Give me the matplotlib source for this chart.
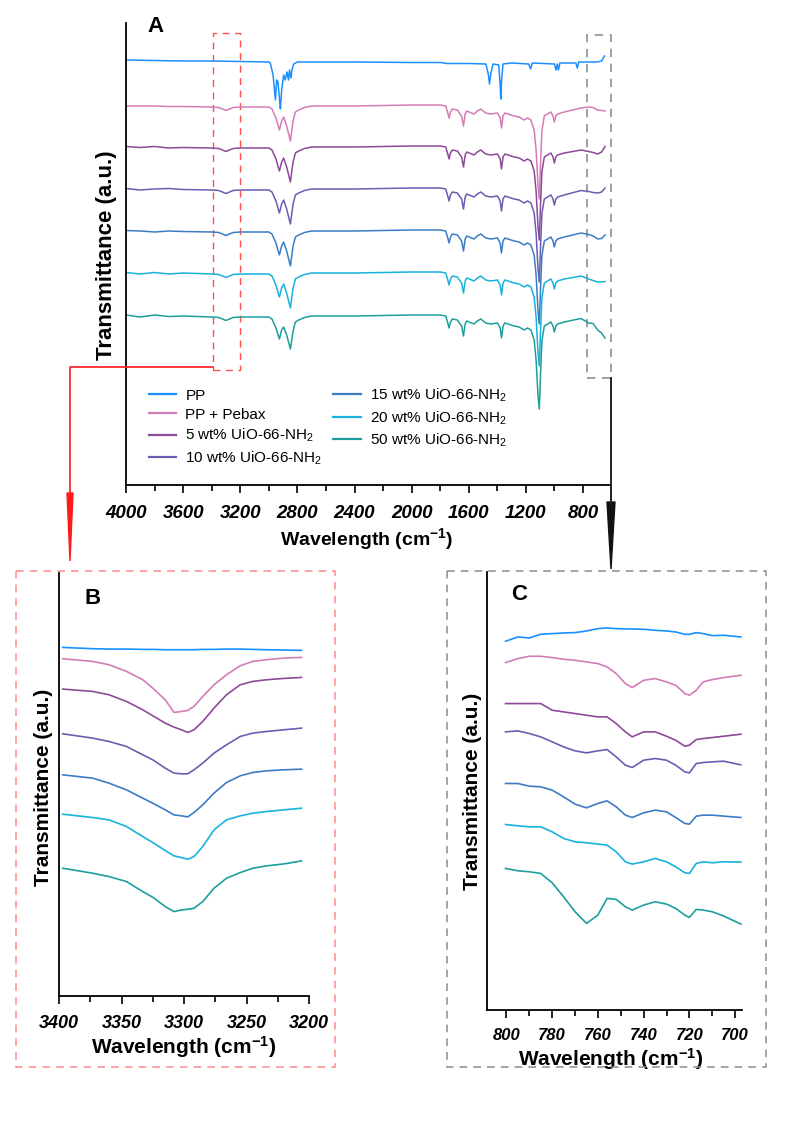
import matplotlib
matplotlib.use('Agg')
import matplotlib.pyplot as plt
from matplotlib.patches import Rectangle, Polygon
from matplotlib.ticker import MultipleLocator

plt.rcParams['font.family'] = ['Liberation Sans', 'DejaVu Sans']
plt.rcParams['mathtext.fontset'] = 'custom'
plt.rcParams['mathtext.rm'] = 'Liberation Sans'
plt.rcParams['mathtext.it'] = 'Liberation Sans:italic'
plt.rcParams['mathtext.bf'] = 'Liberation Sans:bold'

# ---- samples ----
labels = ['PP', 'PP + Pebax', '5 wt% UiO-66-NH$_2$', '10 wt% UiO-66-NH$_2$',
          '15 wt% UiO-66-NH$_2$', '20 wt% UiO-66-NH$_2$', '50 wt% UiO-66-NH$_2$']
colors = ['#1a8fff', '#d37cb6', '#8c4a98', '#6a5db2', '#3b7cc4', '#18b2dc', '#1c9f9c']

# ---- panel A: full spectra (transmittance, a.u., stacked) ----
wn_pp = [4000, 3800, 3600, 3400, 3200, 3000, 2990, 2970, 2954, 2945, 2936, 2925, 2919,
         2910, 2896, 2885, 2873, 2862, 2855, 2845, 2838, 2826, 2800, 2400, 2000, 1800,
         1750, 1600, 1480, 1462, 1455, 1446, 1430, 1390, 1380, 1376, 1370, 1360, 1300,
         1180, 1167, 1155, 1000, 989, 980, 972, 962, 850, 840, 830, 700, 670, 650]
t_pp = [425, 424.5, 424, 424, 423.5, 423, 422, 410, 385, 405, 403, 385, 376,
        395, 410, 405, 413, 405, 415, 407, 415, 421, 423, 423, 422.5, 422.5,
        421.5, 421.5, 421, 410, 401, 411, 421, 420, 400, 386, 405, 421, 422,
        421, 416, 422, 421, 415, 421, 415, 422, 422, 417, 423, 423, 424, 429]

wn_blend = [4000, 3900, 3800, 3700, 3600, 3400, 3350, 3300, 3250, 3200,
            3000, 2978, 2950, 2926, 2910, 2896, 2875, 2849, 2830, 2814,
            2791, 2750, 2700, 2400, 2000, 1800, 1761, 1745, 1738, 1728,
            1715, 1680, 1650, 1637, 1625, 1614, 1563, 1540, 1516, 1481,
            1446, 1399, 1380, 1371, 1360, 1347, 1282, 1247, 1212, 1188,
            1165, 1142, 1128, 1115, 1106, 1098, 1088, 1071, 1025, 1010,
            1001, 990, 978, 931, 814, 760, 730, 697, 670, 646]
t_pebax = [379, 379, 379, 378.5, 378.5, 378, 377.5, 374.5, 377.5, 378,
           378, 376, 367, 355, 364, 368, 359, 344, 364, 373,
           375, 377.5, 379, 379, 380, 380, 379, 371, 367, 373,
           376, 375, 369, 359, 371, 374, 371, 374, 376, 372,
           371, 372, 367, 357, 369, 372, 369, 368, 365, 367,
           365, 355, 334, 299, 286, 319, 354, 369, 373, 369,
           363, 369, 371, 373, 377, 378, 377.5, 375, 374.5, 374]
t_5 = [338.5, 337.5, 338.5, 337, 337.5, 337, 336.5, 333.5, 336.5, 337,
       337, 335, 326, 314, 323, 327, 318, 303, 323, 332,
       334, 336.5, 338, 338, 339, 339, 338, 330, 326, 332,
       335, 334, 328, 318, 330, 333, 330, 333, 335, 331,
       330, 331, 326, 316, 328, 331, 328, 327, 324, 326,
       324, 314, 293, 258, 245, 278, 313, 328, 332, 328,
       322, 328, 330, 332, 335, 333.5, 332.5, 331, 333, 338.5]
t_10 = [296.5, 295, 296, 296.5, 295.5, 295, 294.5, 291.5, 294.5, 295,
        295, 293, 284, 272, 281, 285, 276, 261, 281, 290,
        292, 294.5, 296, 296, 297, 297, 296, 288, 284, 290,
        293, 292, 286, 276, 288, 291, 288, 291, 293, 289,
        288, 289, 284, 274, 286, 289, 286, 285, 282, 284,
        282, 272, 251, 216, 203, 236, 271, 286, 290, 286,
        280, 286, 288, 290, 294.5, 293.5, 292.5, 292, 293, 297]
t_15 = [254.5, 254, 253, 254, 253.5, 253, 252.5, 249.5, 252.5, 253,
        253, 251, 242, 230, 239, 243, 234, 219, 239, 248,
        250, 252.5, 254, 254, 255, 255, 254, 246, 242, 248,
        251, 250, 244, 234, 246, 249, 246, 249, 251, 247,
        246, 247, 242, 232, 244, 247, 244, 243, 240, 242,
        240, 230, 209, 174, 161, 194, 229, 244, 248, 244,
        238, 244, 246, 248, 252, 250.5, 249, 246, 246.5, 250]
t_20 = [212.5, 211, 212.5, 211, 212, 211, 210.5, 207.5, 210.5, 211,
        211, 209, 200, 188, 197, 201, 192, 177, 197, 206,
        208, 210.5, 212, 212, 213, 213, 212, 204, 200, 206,
        209, 208, 202, 192, 204, 207, 204, 207, 209, 205,
        204, 205, 200, 190, 202, 205, 202, 201, 198, 200,
        198, 188, 167, 132, 119, 152, 187, 202, 206, 202,
        196, 202, 204, 206, 209, 206, 204.5, 203, 203, 203.5]
t_50 = [170, 168, 170, 168.5, 169, 168, 167.5, 164.5, 167.5, 168,
        168, 166, 157, 146, 155, 158, 150, 136, 154, 163,
        165, 167.5, 169, 169, 170, 170, 169, 161, 157, 163,
        166, 165, 159, 149, 161, 164, 161, 164, 166, 162,
        161, 162, 157, 147, 159, 162, 159, 158, 155, 157,
        155, 145, 124, 89, 76, 109, 144, 159, 163, 159,
        153, 159, 161, 163, 166.5, 162, 161.5, 155, 152, 147]

# ---- panel B: 3400-3200 cm-1 ----
wn_b = [3397, 3373, 3360, 3346, 3333, 3325, 3315, 3308, 3302, 3297,
        3292, 3285, 3276, 3266, 3255, 3245, 3234, 3220, 3206]
b_pp = [104.5, 104.1, 104.0, 104.0, 103.9, 103.9, 103.8, 103.8, 103.8, 103.8,
        103.8, 103.9, 103.9, 104.0, 104.0, 103.9, 103.8, 103.7, 103.6]
b_pebax = [101.1, 100.3, 99.3, 97.3, 94.8, 92.3, 88.8, 85.0, 85.3, 85.6,
           86.8, 89.8, 93.3, 96.3, 99.0, 100.3, 100.8, 101.3, 101.5]
b_5 = [92.0, 91.3, 90.3, 88.3, 85.8, 84.0, 81.8, 80.6, 79.8, 79.0,
       79.8, 82.3, 86.3, 90.3, 93.3, 94.3, 94.8, 95.2, 95.5]
b_10 = [78.6, 77.3, 76.3, 74.8, 72.3, 70.8, 68.3, 66.8, 66.6, 66.6,
        67.8, 69.8, 72.8, 75.3, 77.8, 78.8, 79.3, 79.8, 80.3]
b_15 = [66.3, 65.3, 63.8, 61.8, 59.3, 57.8, 55.8, 54.3, 54.0, 53.7,
        55.0, 57.3, 60.8, 64.0, 66.0, 67.0, 67.5, 67.8, 68.0]
b_20 = [54.5, 53.5, 52.8, 50.8, 47.8, 46.0, 43.6, 42.0, 41.5, 41.0,
        41.8, 44.8, 49.8, 52.8, 54.0, 54.8, 55.3, 55.8, 56.3]
b_50 = [38.3, 36.8, 35.8, 34.3, 31.3, 29.6, 26.8, 25.3, 25.8, 26.0,
        26.3, 28.3, 32.3, 35.3, 37.0, 38.3, 39.0, 39.6, 40.5]

# ---- panel C: 800-700 cm-1 ----
wn_c = [800.4, 795, 790, 785, 780, 775, 770, 765, 760, 756, 752, 748,
        745, 740, 735, 730, 726, 722, 720, 717, 714, 710, 705, 697.5]
c_pp = [110.7, 112.0, 111.7, 112.8, 113.0, 113.2, 113.3, 113.8, 114.5, 114.7, 114.5, 114.4,
        114.4, 114.3, 114.0, 113.8, 113.5, 112.8, 112.8, 113.3, 113.0, 112.4, 112.5, 112.0]
c_pebax = [104.3, 105.5, 106.2, 106.2, 105.8, 105.3, 105.0, 104.5, 104.0, 103.0, 101.0, 98.0,
           96.8, 99.0, 99.5, 98.5, 97.5, 95.0, 94.5, 96.0, 98.5, 99.2, 99.8, 100.5]
c_5 = [92.0, 92.0, 92.0, 92.0, 90.0, 89.5, 89.0, 88.5, 88.0, 88.0, 86.0, 83.5,
       82.0, 83.5, 83.5, 82.2, 81.0, 79.2, 79.5, 81.2, 81.5, 81.8, 82.2, 82.8]
c_10 = [83.5, 83.8, 83.0, 82.0, 80.5, 79.0, 77.8, 77.2, 77.8, 78.2, 76.0, 73.5,
        72.8, 75.0, 75.5, 75.0, 73.5, 71.5, 71.2, 74.0, 74.3, 74.5, 74.7, 73.6]
c_15 = [68.0, 68.0, 67.2, 67.0, 66.0, 64.0, 61.8, 60.7, 62.0, 62.8, 61.0, 58.5,
        57.8, 59.2, 60.0, 59.5, 57.8, 56.0, 55.8, 58.2, 58.5, 58.5, 58.2, 57.8]
c_20 = [55.7, 55.3, 55.0, 55.0, 53.5, 51.5, 50.5, 50.2, 49.8, 49.5, 47.5, 44.5,
        43.8, 44.5, 45.5, 44.5, 43.0, 41.2, 41.0, 44.0, 44.5, 44.2, 44.5, 44.4]
c_50 = [42.5, 41.8, 41.5, 41.0, 38.2, 34.0, 29.5, 26.0, 28.5, 33.5, 33.2, 31.0,
        30.0, 31.5, 32.5, 31.8, 30.5, 28.5, 27.8, 30.2, 30.0, 29.5, 28.2, 25.8]

W, H = 788, 1123


def box(l, t, r, b):
    # pixel box -> figure fraction rect
    return [l / W, 1 - b / H, (r - l) / W, (b - t) / H]


def style_axis(ax, size, pad):
    for s in ['top', 'right']:
        ax.spines[s].set_visible(False)
    for s in ['left', 'bottom']:
        ax.spines[s].set_linewidth(1.3)
    ax.set_yticks([])
    ax.tick_params(axis='x', which='major', direction='out', length=6, width=1.2, pad=pad)
    ax.tick_params(axis='x', which='minor', direction='out', length=4, width=1.2)
    for lab in ax.get_xticklabels():
        lab.set_fontsize(size)
        lab.set_fontweight('bold')
        lab.set_fontstyle('italic')


fig = plt.figure(figsize=(W / 100, H / 100), dpi=100)

# ---------- A ----------
axA = fig.add_axes(box(126, 23, 611, 485))
axA.plot(wn_pp, t_pp, color=colors[0], lw=1.1, label=labels[0])
blend = [t_pebax, t_5, t_10, t_15, t_20, t_50]
for i, t in enumerate(blend):
    axA.plot(wn_blend, t, color=colors[i + 1], lw=1.1, label=labels[i + 1])
axA.set_xlim(4000, 604)
axA.set_ylim(0, 462)
axA.xaxis.set_major_locator(MultipleLocator(400))
axA.xaxis.set_minor_locator(MultipleLocator(200))
style_axis(axA, 13.5, 8.5)
axA.add_patch(Rectangle((3390, 115), -190, 337, fill=False, ec='#ff5050', lw=1.0,
                        ls=(0, (5, 4))))
axA.add_patch(Rectangle((772, 107), -168, 343, fill=False, ec='#909090', lw=1.2,
                        ls=(0, (5, 4)), clip_on=False))
leg = axA.legend(ncol=2, loc='upper left', bbox_to_anchor=(0.047, 0.213), frameon=False,
                 fontsize=11, handlelength=1.8, handletextpad=0.6, columnspacing=0.7,
                 labelspacing=0.34, borderpad=0, borderaxespad=0)
for h in leg.get_lines():
    h.set_linewidth(1.6)

# ---------- B ----------
axB = fig.add_axes(box(59, 573, 309, 996))
for t, c in zip([b_pp, b_pebax, b_5, b_10, b_15, b_20, b_50], colors):
    axB.plot(wn_b, t, color=c, lw=1.2)
axB.set_xlim(3400, 3200)
axB.set_ylim(0, 126.8)
axB.xaxis.set_major_locator(MultipleLocator(50))
axB.xaxis.set_minor_locator(MultipleLocator(25))
style_axis(axB, 13, 7.5)

# ---------- C ----------
axC = fig.add_axes(box(487, 572, 742, 1010))
for t, c in zip([c_pp, c_pebax, c_5, c_10, c_15, c_20, c_50], colors):
    axC.plot(wn_c, t, color=c, lw=1.2)
axC.set_xlim(808.5, 697)
axC.set_ylim(0, 131.5)
axC.xaxis.set_major_locator(MultipleLocator(20))
axC.xaxis.set_minor_locator(MultipleLocator(10))
style_axis(axC, 12, 7)


def ftext(x, y, s, **kw):
    fig.text(x / W, 1 - y / H, s, ha='center', va='center', **kw)


# panel letters and axis titles
ftext(156, 26, 'A', fontsize=16, fontweight='bold')
ftext(93, 599, 'B', fontsize=16, fontweight='bold')
ftext(519, 595, 'C', fontsize=16, fontweight='bold')
ftext(367, 539, 'Wavelength (cm$^{\\mathbf{-1}}$)', fontsize=14, fontweight='bold')
ftext(184, 1047, 'Wavelength (cm$^{\\mathbf{-1}}$)', fontsize=15, fontweight='bold')
ftext(611, 1059, 'Wavelength (cm$^{\\mathbf{-1}}$)', fontsize=15, fontweight='bold')
ftext(107, 255, 'Transmittance (a.u.)', fontsize=16, fontweight='bold', rotation=90)
ftext(44, 787, 'Transmittance (a.u.)', fontsize=15, fontweight='bold', rotation=90)
ftext(472, 791, 'Transmittance (a.u.)', fontsize=15, fontweight='bold', rotation=90)

# connectors and zoom boxes, in pixel space
ov = fig.add_axes([0, 0, 1, 1], zorder=5)
ov.set_xlim(0, W)
ov.set_ylim(H, 0)
ov.axis('off')
ov.patch.set_alpha(0)
ov.add_patch(Rectangle((16, 571), 319, 496, fill=False, ec='#ff8a8a', lw=1.1,
                       ls=(0, (5, 4))))
ov.add_patch(Rectangle((447, 571), 319, 496, fill=False, ec='#8c8c8c', lw=1.1,
                       ls=(0, (5, 4))))
ov.plot([213, 70, 70], [367, 367, 495], color='#ff1a1a', lw=1.2)
ov.add_patch(Polygon([(67, 493), (73, 493), (70, 561)], closed=True, color='#ff1a1a'))
ov.plot([611, 611], [378, 504], color='#222222', lw=1.4)
ov.add_patch(Polygon([(607, 502), (615, 502), (611, 569)], closed=True, color='#111111'))

fig.savefig('out.png', dpi=100)
